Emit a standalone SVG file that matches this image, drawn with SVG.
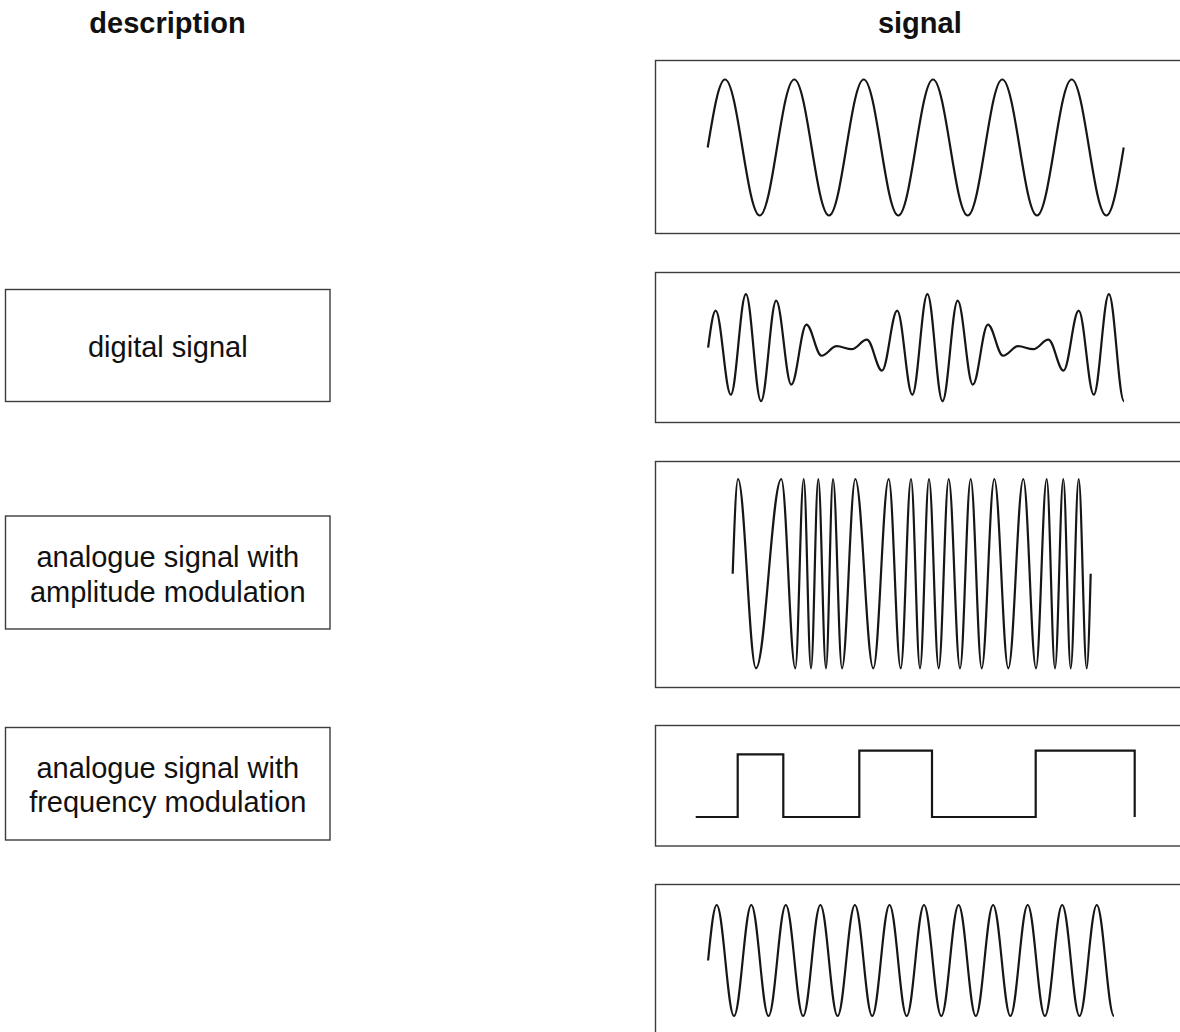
<svg xmlns="http://www.w3.org/2000/svg" width="1180" height="1032" viewBox="0 0 1180 1032">
<style>
  .box { fill: #ffffff; stroke: #3c3c3c; stroke-width: 1.4; }
  .wave { fill: none; stroke: #161616; stroke-width: 2.2; stroke-linejoin: round; stroke-linecap: butt; }
  .sq { fill: none; stroke: #161616; stroke-width: 2.2; stroke-linejoin: miter; }
  .lbl { font-family: "Liberation Sans", Arial, sans-serif; font-size: 29px; fill: #111111; text-anchor: middle; }
  .hdr { font-family: "Liberation Sans", Arial, sans-serif; font-size: 29px; font-weight: bold; fill: #111111; text-anchor: middle; }
</style>
<rect x="0" y="0" width="1180" height="1032" fill="#ffffff"/>

<g id="headers">
  <text class="hdr" x="167.5" y="33.3">description</text>
  <text class="hdr" x="919.8" y="33">signal</text>
</g>

<g id="desc-digital">
  <rect class="box" x="5.5" y="289.5" width="324.5" height="112"/>
  <text class="lbl" x="167.8" y="357.3">digital signal</text>
</g>
<g id="desc-am">
  <rect class="box" x="5.5" y="516" width="324.5" height="113"/>
  <text class="lbl" x="167.8" y="566.7">analogue signal with</text>
  <text class="lbl" x="167.8" y="601.7">amplitude modulation</text>
</g>
<g id="desc-fm">
  <rect class="box" x="5.5" y="727.5" width="324.5" height="112.5"/>
  <text class="lbl" x="167.8" y="777.7">analogue signal with</text>
  <text class="lbl" x="167.8" y="811.7">frequency modulation</text>
</g>

<g id="signal-sine-low">
  <rect class="box" x="655.5" y="60.5" width="540" height="173"/>
  <path class="wave" d="M707.7,147.5 C713.4,112.7 718.8,79.5 725,79.5 C737.6,79.5 747.1,215.5 759.7,215.5 S781.7,79.5 794.3,79.5 S816.4,215.5 829,215.5 S851.1,79.5 863.7,79.5 S885.7,215.5 898.3,215.5 S920.4,79.5 933,79.5 S955.1,215.5 967.7,215.5 S989.7,79.5 1002.3,79.5 S1024.4,215.5 1037,215.5 S1059.1,79.5 1071.7,79.5 S1093.7,215.5 1106.3,215.5 C1112.6,215.5 1118,182.3 1123.7,147.5"/>
</g>

<g id="signal-am">
  <rect class="box" x="655.5" y="272.5" width="540" height="150"/>
  <path class="wave" d="M708.1,347.7 C710.6,328.7 712.9,310.7 715.7,310.7 C721.2,310.7 725.3,394.7 730.8,394.7 S740.4,294.2 745.9,294.2 S755.5,401.2 761,401.2 S770.7,300.7 776.2,300.7 S785.8,384.7 791.3,384.7 S800.9,324.7 806.4,324.7 S816,355.7 821.5,355.7 S831.2,346.2 836.7,346.2 S846.3,349.2 851.8,349.2 S861.4,339.7 866.9,339.7 S876.5,370.7 882,370.7 S891.7,310.7 897.2,310.7 S906.8,394.7 912.3,394.7 S921.9,294.2 927.4,294.2 S937,401.2 942.5,401.2 S952.2,300.7 957.7,300.7 S967.3,384.7 972.8,384.7 S982.4,324.7 987.9,324.7 S997.5,355.7 1003,355.7 S1012.7,346.2 1018.2,346.2 S1027.8,349.2 1033.3,349.2 S1042.9,339.7 1048.4,339.7 S1058,370.7 1063.5,370.7 S1073.2,310.7 1078.7,310.7 S1088.3,394.7 1093.8,394.7 S1103.4,294.2 1108.9,294.2 S1118.5,401.2 1124,401.2"/>
</g>

<g id="signal-fm">
  <rect class="box" x="655.5" y="461.5" width="540" height="226"/>
  <path class="wave" d="M732.7,573.7 C734.4,525.2 736.1,479 738,479 C744.6,479 749.4,668.3 756,668.3 C765.2,668.3 772.1,479 781.3,479 C786.4,479 790.2,668.3 795.3,668.3 C798.4,668.3 800.6,479 803.7,479 C806.4,479 808.3,668.3 811,668.3 C813.7,668.3 815.6,479 818.3,479 C821.1,479 823.2,668.3 826,668.3 C828.5,668.3 830.5,479 833,479 C836.3,479 838.7,668.3 842,668.3 C846.8,668.3 850.5,479 855.3,479 C861.9,479 866.8,668.3 873.3,668.3 C878.9,668.3 883.1,479 888.7,479 C893.1,479 896.3,668.3 900.7,668.3 C904.5,668.3 907.3,479 911,479 C914.3,479 916.7,668.3 920,668.3 C923.3,668.3 925.7,479 929,479 C932.5,479 935.2,668.3 938.7,668.3 C942.3,668.3 945.1,479 948.7,479 C952.8,479 955.9,668.3 960,668.3 C963.9,668.3 966.8,479 970.7,479 C974.7,479 977.7,668.3 981.7,668.3 C986.3,668.3 989.7,479 994.3,479 C999.4,479 1003.2,668.3 1008.3,668.3 C1013.8,668.3 1017.8,479 1023.3,479 C1027.9,479 1031.4,668.3 1036,668.3 C1039.9,668.3 1042.8,479 1046.7,479 C1049.7,479 1052,668.3 1055,668.3 C1058,668.3 1060.3,479 1063.3,479 C1066,479 1068,668.3 1070.7,668.3 C1073.6,668.3 1075.8,479 1078.7,479 C1081.6,479 1083.8,668.3 1086.7,668.3 C1088.1,668.3 1089.4,622.2 1090.7,573.7"/>
</g>

<g id="signal-digital">
  <rect class="box" x="655.5" y="725.5" width="540" height="120.5"/>
  <path class="sq" d="M695.7,817 H737.7 V754.3 H783.3 V817 H859.3 V750.7 H932 V817 H1035.7 V750.7 H1134.7 V817"/>
</g>

<g id="signal-sine-high">
  <rect class="box" x="655.5" y="884.5" width="540" height="200"/>
  <path class="wave" d="M708.1,960.5 C710.9,932.1 713.6,905 716.7,905 C723,905 727.7,1016 734,1016 S745,905 751.3,905 S762.2,1016 768.5,1016 S779.5,905 785.8,905 S796.8,1016 803.1,1016 S814.1,905 820.4,905 S831.3,1016 837.6,1016 S848.6,905 854.9,905 S865.9,1016 872.2,1016 S883.2,905 889.5,905 S900.4,1016 906.7,1016 S917.7,905 924,905 S935,1016 941.3,1016 S952.3,905 958.6,905 S969.5,1016 975.8,1016 S986.8,905 993.1,905 S1004.1,1016 1010.4,1016 S1021.4,905 1027.7,905 S1038.6,1016 1044.9,1016 S1055.9,905 1062.2,905 S1073.2,1016 1079.5,1016 S1090.5,905 1096.8,905 S1107.7,1016 1114,1016"/>
</g>

<g id="connectors"/>
</svg>
